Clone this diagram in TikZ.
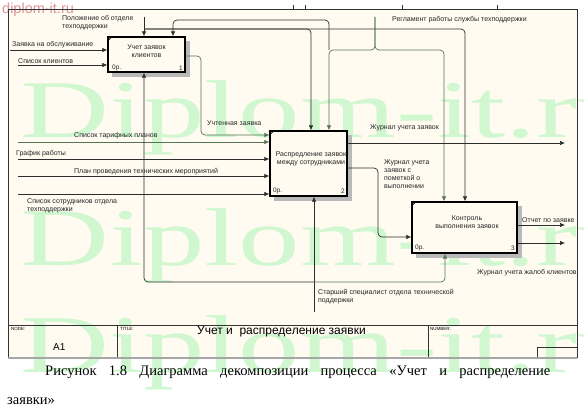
\documentclass[tikz,border=0pt]{standalone}
\usepackage{fontspec}
\setmainfont{Liberation Sans}
\newfontfamily\seriffont{Liberation Serif}
\usetikzlibrary{arrows.meta,calc}
\definecolor{cream}{RGB}{255,251,240}
\definecolor{wmgreen}{RGB}{208,247,208}
\definecolor{lnc}{RGB}{45,45,45}
\definecolor{gnc}{RGB}{85,115,85}
\definecolor{pinkwm}{RGB}{220,150,150}
\begin{document}
\begin{tikzpicture}[x=1pt,y=-1pt,
  box/.style={draw=black, line width=1.3pt, inner sep=0pt},
  lbl/.style={font=\fontsize{7}{8}\selectfont, inner sep=0pt, text=black!85, align=left},
  boxtxt/.style={font=\fontsize{7}{8}\selectfont, inner sep=0pt, text=black!85, align=center},
  cost/.style={font=\fontsize{6.5}{7}\selectfont, inner sep=0pt, text=black!85},
  arr/.style={draw=lnc, line width=0.7pt, rounded corners=4pt, -{Latex[length=5pt,width=4.5pt]}},
  garr/.style={draw=gnc, line width=0.7pt, rounded corners=4pt, -{Latex[length=5pt,width=4.5pt]}},
  shade/.style={fill=gray!55},
  tinyt/.style={font=\fontsize{4.5}{5}\selectfont, inner sep=0pt, anchor=north west},
  wmark/.style={text=wmgreen, font=\seriffont\fontsize{82}{82}\selectfont, inner sep=0pt, anchor=base west, xscale=1.5}
]
\useasboundingbox (0,0) rectangle (584,417);
\clip (0,0) rectangle (584,417);
\fill[white] (0,0) rectangle (584,417);
% frame background
\fill[cream] (8,9) rectangle (577,357);
% watermark
\node[wmark] (wm1) at (20,138) {Diplom-it.ru};
\node[wmark] (wm2) at (20,265) {Diplom-it.ru};
\node[wmark] (wm3) at (20,372) {Diplom-it.ru};
\node[anchor=base west, inner sep=0pt, text=pinkwm, font=\fontsize{14.5}{15}\selectfont] (wmtop) at (2,14) {diplom-it.ru};
% frame
\draw[line width=0.8pt, black!80] (8,9) rectangle (577,357);
\draw[line width=0.8pt, black!80] (8,325) -- (577,325);
\draw[line width=0.8pt, black!80] (117,325) -- (117,357);
\draw[line width=0.8pt, black!80] (428,325) -- (428,357);
\draw[line width=0.8pt, black!80] (537,357) |- (577,347);
\draw[line width=1.4pt, gray!70] (8,358) -- (577,358);
\foreach \tx in {293,305,402,497} \draw[line width=0.6pt, black!80] (\tx,5) -- (\tx,9);
% shadows
\fill[shade] (186,41) rectangle (190,77);
\fill[shade] (112,73) rectangle (190,77);
\fill[shade] (348,135) rectangle (352,201);
\fill[shade] (274,197) rectangle (352,201);
\fill[shade] (518,206) rectangle (522,258);
\fill[shade] (416,254) rectangle (522,258);
% boxes
\node[box, fill=cream, minimum width=77pt, minimum height=35pt] (b1) at (146.5,54.5) {};
\node[box, fill=cream, minimum width=77pt, minimum height=65pt] (b2) at (308.5,163.5) {};
\node[box, fill=cream, minimum width=105pt, minimum height=51pt] (b3) at (464.5,227.5) {};
\draw[line width=0.7pt] ($(b1.north west)+(0,5)$) -- ($(b1.north west)+(5,0)$);
\draw[line width=0.7pt] ($(b2.north west)+(0,5)$) -- ($(b2.north west)+(5,0)$);
\draw[line width=0.7pt] ($(b3.north west)+(0,5)$) -- ($(b3.north west)+(5,0)$);
\node[boxtxt] (t1) at (146.5,51) {Учет заявок\\клиентов};
\node[boxtxt] (t2) at (311,158.5) {Распредление заявок\\между сотрудниками};
\node[boxtxt] (t3) at (467,222.5) {Контроль\\выполнения заявок};
\node[cost, anchor=west] (c1) at (112,68) {0р.};
\node[cost, anchor=east] (n1) at (183,68) {1};
\node[cost, anchor=west] (c2) at (273,191) {0р.};
\node[cost, anchor=east] (n2) at (345,191) {2};
\node[cost, anchor=west] (c3) at (415,248) {0р.};
\node[cost, anchor=east] (n3) at (515,248) {3};
% box1 inputs
\coordinate (zIn) at (10,50);
\draw[arr] (zIn) -- (zIn -| b1.west);
\node[lbl, anchor=west] (zL) at (12,45) {Заявка на обслуживание};
\coordinate (sIn) at (18,65);
\draw[arr] (sIn) -- (sIn -| b1.west);
\node[lbl, anchor=west] (sL) at (18,61) {Список клиентов};
% Положение
\coordinate (pTop) at (144,17);
\coordinate (pJ) at (144,29);
\draw[arr] (pTop) -- (pTop |- b1.north);
\draw[arr] (pJ) -| ([xshift=2.5pt]b2.north);
\draw[arr] (pJ) -| ([xshift=0.5pt]b3.north);
\node[lbl, anchor=west] (pL) at (62,22.5) {Положение об отделе\\техподдержки};
% Регламент
\coordinate (rTop) at (375,17);
\coordinate (rJ) at (375,50);
\coordinate (rK) at (329,50);
\coordinate (rUp) at (329,20);
\draw[garr] (rTop) -- (rJ) -| ([xshift=-20.5pt]b3.north);
\draw[garr] (rTop) -- (rJ) -| ([xshift=20.5pt]b2.north);
\draw[arr] (rK) -- (rUp) -| ([xshift=26.5pt]b1.north);
\node[lbl, anchor=west] (rL) at (392,19.5) {Регламент работы службы техподдержки};
% box1 output
\coordinate (uS) at (185,56);
\coordinate (uE) at (201,135);
\draw[garr] (b1.east |- uS) -| (uE) -- (uE -| b2.west);
\node[lbl, anchor=west] (uL) at (207,123) {Учтенная заявка};
% box2 inputs
\coordinate (tIn) at (18,142);
\draw[garr] (tIn) -- (tIn -| b2.west);
\node[lbl, anchor=west] (tL) at (74,136) {Список тарифных планов};
\coordinate (gIn) at (18,159);
\draw[arr] (gIn) -- (gIn -| b2.west);
\node[lbl, anchor=west] (gL) at (16,154) {График работы};
\coordinate (plIn) at (18,176);
\draw[arr] (plIn) -- (plIn -| b2.west);
\node[lbl, anchor=west] (plL) at (74,172) {План проведения технических мероприятий};
\coordinate (ssIn) at (18,194);
\draw[arr] (ssIn) -- (ssIn -| b2.west);
\node[lbl, anchor=west] (ssL) at (27,206) {Список сотрудников отдела\\техподдержки};
% mechanism
\coordinate (stB) at (314,312);
\coordinate (stJ) at (314,282);
\draw[arr] (stB) -- (stB |- b2.south);
\draw[arr] (stJ) -| ([xshift=-2.5pt]b1.south);
\draw[garr] (stJ) -| ([xshift=-19.5pt]b3.south);
\node[lbl, anchor=west] (stL) at (318,297) {Старший специалист отдела технической\\поддержки};
% box2 outputs
\coordinate (jzE) at (565,143);
\draw[arr] (jzE -| b2.east) -- (jzE);
\node[lbl, anchor=west] (jzL) at (370,128) {Журнал учета заявок};
\coordinate (jpS) at (347,168);
\coordinate (jpC) at (378,237);
\draw[arr] (b2.east |- jpS) -| (jpC) -- (jpC -| b3.west);
\node[lbl, anchor=west] (jpL) at (384,174) {Журнал учета\\заявок с\\пометкой о\\выполнении};
% box3 outputs
\coordinate (otE) at (565,225);
\draw[arr] (otE -| b3.east) -- (otE);
\node[lbl, anchor=west] (otL) at (522,220) {Отчет по заявке};
\coordinate (jgE) at (565,243);
\draw[arr] (jgE -| b3.east) -- (jgE);
\node[lbl, anchor=west] (jgL) at (477,273) {Журнал учета жалоб клиентов};
% title block texts
\node[tinyt] (nodeT) at (11,327) {NODE:};
\node[anchor=west, inner sep=0pt, font=\fontsize{10}{12}\selectfont] (a1) at (53,347) {A1};
\node[tinyt] (titleT) at (120,327) {TITLE:};
\node[anchor=west, inner sep=0pt, font=\fontsize{12}{14}\selectfont] (title) at (197,332) {Учет и\ \ распределение заявки};
\node[tinyt] (numT) at (430,327) {NUMBER:};
% caption
\node[anchor=base west, inner sep=0pt, font=\seriffont\fontsize{14.5}{16}\selectfont] (cap1) at (45,375) {\makebox[505pt][s]{Рисунок 1.8 Диаграмма декомпозиции процесса «Учет и распределение}};
\node[anchor=base west, inner sep=0pt, font=\seriffont\fontsize{14.5}{16}\selectfont] (cap2) at (7,404) {заявки»};
\end{tikzpicture}
\end{document}
